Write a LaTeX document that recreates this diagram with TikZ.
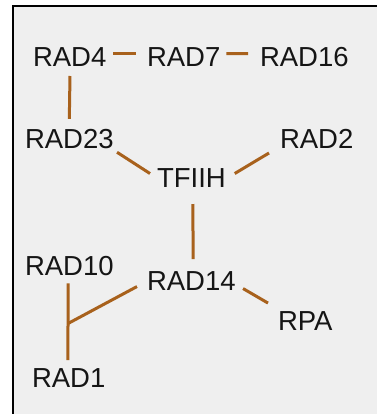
\documentclass[tikz,border=0pt]{standalone}
\usepackage{fontspec}
\setmainfont{Liberation Sans}
\usetikzlibrary{calc}
\definecolor{paper}{HTML}{EFEFEF}
\definecolor{link}{HTML}{A8611C}
\definecolor{ink}{HTML}{151515}
\tikzset{
  prot/.style={anchor=base west, inner sep=0pt, outer sep=0pt, text=ink,
    font=\fontsize{27.5}{33}\selectfont},
  bond/.style={draw=link, line width=3pt, line cap=butt},
  frameline/.style={draw=black, line width=2.6pt}
}
\begin{document}
\begin{tikzpicture}[x=1pt, y=-1pt]
  \useasboundingbox (0,0) rectangle (377,414);
  % panel background and its frame (left and top edges)
  \fill[white] (0,0) rectangle (377,414);
  \fill[paper] (13,6) rectangle (377,414);
  \draw[frameline] (13,414) -- (13,6) -- (377,6);

  % proteins
  \node[prot] (rad4)  at (33,67)  {RAD4};
  \node[prot] (rad7)  at (147,67) {RAD7};
  \node[prot] (rad16) at (260,67) {RAD16};
  \node[prot] (rad23) at (25,148) {RAD23};
  \node[prot] (rad2)  at (280,148) {RAD2};
  \node[prot] (tfiih) at (157,187) {TFIIH};
  \node[prot] (rad10) at (25,275) {RAD10};
  \node[prot] (rad14) at (147,290) {RAD14};
  \node[prot] (rpa)   at (278,330) {RPA};
  \node[prot] (rad1)  at (32,387) {RAD1};

  % junction where RAD14 meets the RAD10--RAD1 link
  \coordinate (fork) at ($(rad10.south)!0.52!(rad1.north)+(-1,0)$);

  % interactions
  \draw[bond] ($(rad4.east)+(7,-4)$) -- ($(rad7.west)+(-11,-4)$);
  \draw[bond] ($(rad7.east)+(6,-4)$) -- ($(rad16.west)+(-12,-4)$);
  \draw[bond] ($(rad4.south)+(0.3,9)$) -- ($(rad23.north)+(0,-10)$ -| rad4.south);
  \draw[bond] ($(rad23.south east)+(3.4,4)$) -- ($(tfiih.west)+(-7,-4)$);
  \draw[bond] ($(rad2.south west)+(-11,5)$) -- ($(tfiih.east)+(9,-4)$);
  \draw[bond] ($(tfiih.south)+(1.6,17)$) -- ($(rad14.north)+(1.7,-12)$);
  \draw[bond] ($(rad14.east)+(7.4,8)$) -- ($(rpa.north west)+(-10,-8)$);
  \draw[bond] ($(rad10.south)+(-1.3,8)$) -- ($(rad1.north)+(-0.7,-8)$);
  \draw[bond] (fork) -- ($(rad14.west)+(-10,6)$);
\end{tikzpicture}
\end{document}
